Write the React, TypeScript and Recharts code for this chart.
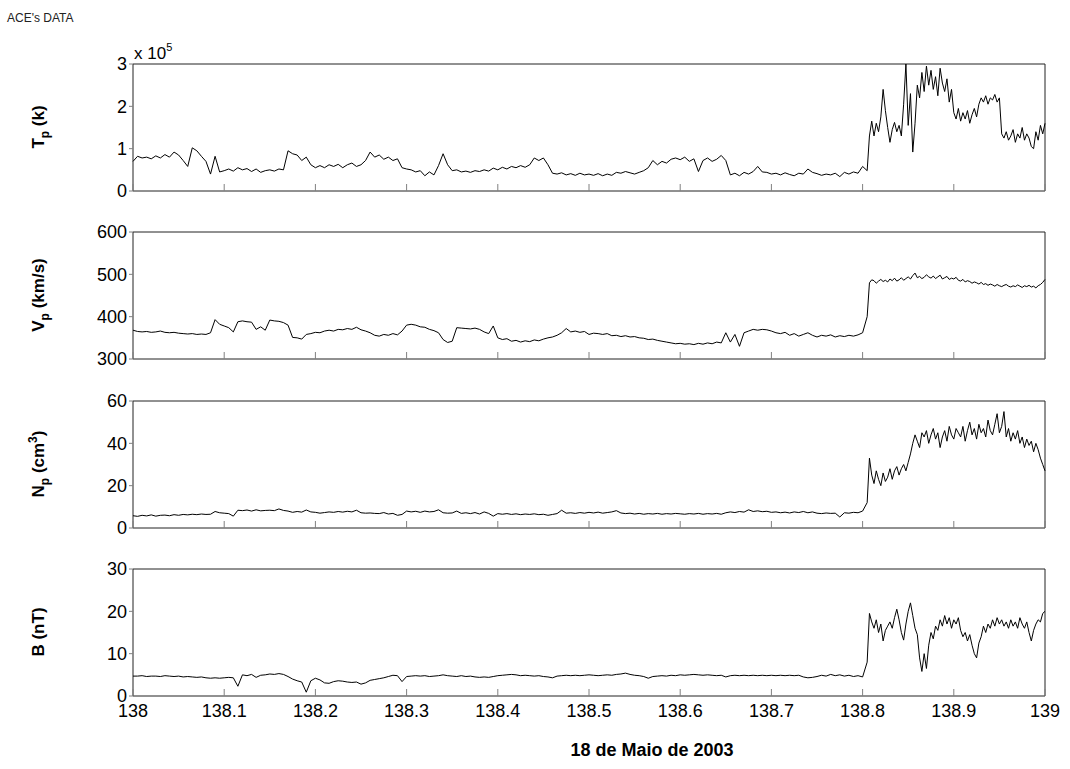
import { LineChart, Line, XAxis, YAxis, ReferenceArea, ReferenceLine } from "recharts";

const FONT = '"Liberation Sans", Arial, Helvetica, sans-serif';
const W = 1070;
const H = 769;
const PLOT_LEFT = 133;
const PLOT_RIGHT = 1045;
const Y_AXIS_W = 60;
const PLOT_H = 127;
const TOP_PAD = 10;
const BOTTOM_PAD = 40;

// time axis (day of year 2003)
const X_TICKS = [138, 138.1, 138.2, 138.3, 138.4, 138.5, 138.6, 138.7, 138.8, 138.9, 139];
const SHOCK_T = 138.805;
// quiet part sampled every 0.005 day from 138.000, disturbed part every 0.0025 day from 138.8075
const PRE_START = 138;
const PRE_STEP = 0.005;
const POST_START = 138.8075;
const POST_STEP = 0.0025;

// proton temperature, in units of 1e5 K
const TP_PRE = [
  0.70, 0.82, 0.78, 0.80, 0.76, 0.83, 0.78, 0.86, 0.80, 0.92,
  0.85, 0.72, 0.58, 1.02, 0.95, 0.82, 0.70, 0.40, 0.82, 0.45,
  0.48, 0.52, 0.47, 0.55, 0.50, 0.53, 0.46, 0.52, 0.44, 0.48,
  0.50, 0.47, 0.52, 0.50, 0.95, 0.88, 0.85, 0.72, 0.80, 0.62,
  0.55, 0.60, 0.55, 0.62, 0.58, 0.63, 0.55, 0.62, 0.66, 0.58,
  0.62, 0.72, 0.92, 0.80, 0.85, 0.75, 0.80, 0.72, 0.76, 0.55,
  0.52, 0.50, 0.45, 0.48, 0.36, 0.45, 0.38, 0.60, 0.88, 0.62,
  0.48, 0.50, 0.45, 0.47, 0.44, 0.48, 0.46, 0.50, 0.47, 0.54,
  0.50, 0.56, 0.52, 0.58, 0.55, 0.60, 0.56, 0.62, 0.78, 0.72,
  0.78, 0.62, 0.42, 0.40, 0.43, 0.38, 0.41, 0.37, 0.42, 0.38,
  0.40, 0.37, 0.41, 0.36, 0.40, 0.37, 0.44, 0.42, 0.46, 0.43,
  0.40, 0.44, 0.48, 0.55, 0.72, 0.62, 0.70, 0.66, 0.75, 0.78,
  0.74, 0.80, 0.70, 0.76, 0.46, 0.72, 0.78, 0.70, 0.75, 0.84,
  0.72, 0.38, 0.42, 0.36, 0.44, 0.40, 0.46, 0.58, 0.45, 0.44,
  0.40, 0.42, 0.38, 0.43, 0.39, 0.36, 0.42, 0.40, 0.52, 0.44,
  0.41, 0.37, 0.40, 0.38, 0.42, 0.34, 0.44, 0.40, 0.45, 0.42,
  0.58, 0.48,
];
const TP_POST = [
  1.30, 1.65, 1.30, 1.60, 1.40, 1.75, 2.40, 1.90, 1.50, 1.15,
  1.45, 1.62, 1.40, 1.55, 1.30, 2.05, 3.00, 1.55, 2.30, 0.92,
  1.60, 2.50, 2.20, 2.80, 2.35, 2.95, 2.50, 2.85, 2.40, 2.70,
  2.25, 2.90, 2.55, 2.35, 2.65, 2.10, 2.40, 1.85, 1.70, 1.95,
  1.65, 1.85, 1.70, 1.90, 1.60, 1.80, 1.95, 1.75, 2.05, 2.20,
  2.10, 2.25, 2.05, 2.20, 2.15, 2.28, 2.10, 2.20, 1.35, 1.25,
  1.40, 1.20, 1.30, 1.45, 1.15, 1.35, 1.25, 1.50, 1.20, 1.35,
  1.25, 1.05, 1.00, 1.40, 1.20, 1.55, 1.35, 1.60,
];

// proton speed, km/s
const VP_PRE = [
  368, 365, 364, 365, 363, 364, 366, 363, 362, 363,
  361, 360, 359, 360, 358, 359, 358, 362, 393, 382,
  378, 374, 364, 388, 390, 388, 387, 370, 376, 368,
  392, 390, 389, 386, 380, 351, 350, 347, 358, 360,
  363, 362, 366, 368, 366, 370, 369, 372, 370, 375,
  369, 366, 362, 356, 354, 358, 356, 360, 357, 366,
  380, 382, 380, 376, 375, 370, 367, 362, 346, 339,
  342, 374, 373, 372, 371, 373, 370, 364, 360, 378,
  350, 346, 348, 342, 344, 340, 343, 341, 345, 343,
  347, 350, 352, 356, 362, 372, 364, 366, 363, 365,
  358, 361, 360, 358, 360, 355, 356, 353, 355, 352,
  353, 350, 349, 346, 347, 344, 342, 340, 338, 336,
  337, 335, 336, 334, 337, 335, 338, 336, 340, 338,
  362, 340, 358, 330, 362, 366, 370, 368, 370, 369,
  366, 362, 360, 363, 356, 360, 354, 358, 362, 356,
  352, 356, 354, 357, 352, 355, 353, 356, 354, 357,
  362, 400,
];
const VP_POST = [
  480, 487, 485, 479, 484, 488, 483, 486, 482, 489,
  485, 491, 484, 487, 492, 486, 490, 494, 489, 497,
  503, 492, 495, 490, 493, 499, 494, 491, 496, 490,
  494, 498, 489, 492, 495, 488, 491, 489, 493, 486,
  484, 488, 482, 485, 483, 479, 482, 480, 477, 481,
  476, 478, 474, 477, 475, 472, 476, 473, 471, 474,
  476, 472, 470, 473, 471, 475, 472, 469, 473, 471,
  474, 470, 472, 468, 473, 476, 481, 488,
];

// proton density, cm^-3
const NP_PRE = [
  5.8, 5.5, 6.0, 5.7, 6.2, 5.6, 6.0, 6.1, 5.8, 6.3,
  6.0, 6.4, 6.2, 6.5, 6.3, 6.6, 6.4, 6.5, 7.8, 7.2,
  7.0, 6.8, 5.6, 8.4, 8.2, 8.5, 8.0, 8.6, 8.1, 8.3,
  8.4, 8.2, 9.0, 8.3, 8.0, 7.4, 7.8, 7.5, 8.5, 7.6,
  7.4, 7.0, 7.3, 7.6, 7.4, 7.8, 7.5, 7.9, 7.6, 8.4,
  7.2, 7.0, 7.1, 6.9, 6.8, 7.3, 6.6, 6.9, 6.0, 6.4,
  8.0, 7.6, 7.9, 7.4, 8.0, 7.6, 7.8, 8.6, 7.2, 7.0,
  7.1, 8.0, 6.9, 7.2, 6.8, 7.3, 6.6, 7.6, 6.9, 5.6,
  6.8, 6.5, 6.8, 6.4, 6.7, 6.3, 6.6, 6.4, 6.7, 6.3,
  6.5, 6.0, 6.4, 6.8, 8.4, 7.0, 7.2, 6.9, 7.3, 7.0,
  7.4, 7.1, 7.5, 7.0, 7.3, 7.6, 8.2, 7.1, 6.8, 7.0,
  6.6, 6.9, 6.5, 6.8, 6.6, 6.9, 6.5, 6.8, 6.6, 6.9,
  6.7, 6.5, 6.8, 6.6, 6.9, 6.5, 6.8, 6.6, 6.9, 6.5,
  7.2, 7.6, 7.3, 7.8, 7.5, 8.6, 7.8, 8.1, 7.7, 7.9,
  7.4, 7.6, 7.2, 7.5, 7.1, 7.6, 7.3, 7.8, 7.2, 7.6,
  7.0, 6.8, 7.1, 6.9, 7.0, 5.2, 7.2, 7.0, 7.4, 7.2,
  8.0, 12.0,
];
const NP_POST = [
  33, 25, 21, 27, 23, 20, 26, 22, 24, 28,
  23, 27, 29, 25, 28, 30, 27, 31, 35, 40,
  44, 41, 38, 45, 43, 46, 40, 44, 47, 42,
  45, 38, 43, 46, 41, 48, 44, 42, 47, 45,
  43, 48, 41, 46, 50, 44, 47, 42, 49, 45,
  47, 43, 51, 46, 44, 49, 54, 45, 48, 55,
  43, 47, 41, 45, 42, 46, 40, 43, 38, 42,
  39, 41, 36, 40, 37, 33, 30, 27,
];

// magnetic field magnitude, nT
const B_PRE = [
  4.7, 4.7, 4.8, 4.6, 4.7, 4.7, 4.6, 4.8, 4.7, 4.6,
  4.7, 4.5, 4.6, 4.5, 4.4, 4.5, 4.3, 4.2, 4.3, 4.2,
  4.3, 4.4, 4.3, 2.3, 5.0, 4.8, 5.1, 4.4, 4.9, 5.0,
  5.2, 5.1, 5.3, 5.1, 4.6, 4.0, 3.6, 3.3, 0.9, 3.6,
  4.2, 3.8, 3.1, 3.0, 3.4, 3.6, 3.5, 3.3, 3.2, 3.3,
  2.8, 3.1, 3.7, 3.9, 4.1, 4.3, 4.6, 4.9, 4.8, 3.4,
  4.6, 4.7, 4.8, 4.7, 4.8, 4.6, 4.7, 4.8, 5.0, 4.8,
  4.7, 4.6, 4.8, 4.6, 4.7, 4.5, 4.4, 4.5, 4.4, 4.6,
  4.8, 4.9, 5.0, 5.1, 5.0, 4.8, 4.9, 4.8, 4.7, 4.8,
  4.6, 4.5, 4.3, 4.7, 4.8, 4.9, 4.8, 4.9, 4.8, 4.9,
  5.0, 4.9, 4.8, 4.9, 5.0, 4.9, 5.1, 5.2, 5.4, 5.1,
  4.9, 4.8, 4.6, 4.2, 4.6, 4.7, 4.8, 4.7, 4.9, 4.8,
  5.0, 4.9, 5.0, 5.1, 5.0, 4.9, 5.0, 4.9, 4.8, 4.9,
  4.5, 4.8, 4.9, 4.8, 4.9, 4.8, 4.9, 4.8, 4.9, 4.8,
  4.9, 4.8, 4.9, 4.8, 4.9, 4.8, 4.9, 4.5, 4.3, 4.4,
  4.6, 4.9, 4.7, 5.1, 4.8, 5.0, 4.7, 4.9, 4.6, 4.8,
  4.5, 8.0,
];
const B_POST = [
  19.5, 17.5, 16.0, 18.0, 15.0, 17.0, 13.0, 15.5, 16.5, 17.5,
  16.0, 18.5, 20.5, 18.0, 15.0, 13.2, 17.0, 20.0, 22.0, 19.0,
  16.0, 14.5, 9.0, 5.8, 10.0, 6.5, 12.0, 15.0, 13.5, 16.5,
  15.5, 18.0, 16.5, 19.0, 17.0, 18.5, 16.0, 18.0, 17.0, 18.5,
  15.5, 14.0, 15.0, 13.0, 14.5, 12.0, 10.0, 9.0, 12.5, 14.0,
  16.5, 15.0, 17.0, 16.0, 18.0, 16.5, 18.5, 17.0, 18.0, 16.5,
  17.5, 16.0, 18.0, 16.5, 17.5, 16.0, 18.5, 17.0, 16.0, 17.5,
  15.0, 13.0, 15.5, 17.0, 18.0, 17.5, 19.5, 20.0,
];

function buildRows(pre: number[], post: number[]) {
  const a = pre.map((v, i) => ({ t: +(PRE_START + i * PRE_STEP).toFixed(4), v }));
  const b = post.map((v, j) => ({ t: +(POST_START + j * POST_STEP).toFixed(4), v }));
  return [...a, ...b];
}

const PANELS = [
  { key: "tp", top: 64, rows: buildRows(TP_PRE, TP_POST), domain: [0, 3], ticks: [0, 1, 2, 3] },
  { key: "vp", top: 232, rows: buildRows(VP_PRE, VP_POST), domain: [300, 600], ticks: [300, 400, 500, 600] },
  { key: "np", top: 401, rows: buildRows(NP_PRE, NP_POST), domain: [0, 60], ticks: [0, 20, 40, 60] },
  { key: "b", top: 569, rows: buildRows(B_PRE, B_POST), domain: [0, 30], ticks: [0, 10, 20, 30] },
];

function BottomTick(props: any) {
  const { x, y, payload, showLabel } = props;
  return (
    <g>
      <line x1={x} x2={x} y1={y} y2={y - 7} stroke="#808080" />
      {showLabel && (
        <text x={x} y={y + 21} textAnchor="middle" fontSize={18} fontFamily={FONT} fill="#000">
          {payload.value}
        </text>
      )}
    </g>
  );
}

function TopTick(props: any) {
  const { x, y } = props;
  return <line x1={x} x2={x} y1={y} y2={y + 7} stroke="#808080" />;
}

function Panel({ top, rows, domain, ticks, showXLabels }: any) {
  return (
    <div style={{ position: "absolute", left: 0, top: top - TOP_PAD }}>
      <LineChart
        width={W}
        height={TOP_PAD + PLOT_H + BOTTOM_PAD}
        data={rows}
        margin={{ top: TOP_PAD, right: W - PLOT_RIGHT, bottom: 0, left: PLOT_LEFT - Y_AXIS_W }}
      >
        <XAxis
          xAxisId="b"
          dataKey="t"
          type="number"
          domain={[138, 139]}
          ticks={X_TICKS}
          interval={0}
          height={BOTTOM_PAD}
          axisLine={false}
          tickLine={false}
          tickSize={0}
          tickMargin={0}
          tick={(p: any) => <BottomTick {...p} showLabel={showXLabels} />}
        />
        <XAxis
          xAxisId="t"
          orientation="top"
          dataKey="t"
          type="number"
          domain={[138, 139]}
          ticks={X_TICKS}
          interval={0}
          height={0}
          axisLine={false}
          tickLine={false}
          tickSize={0}
          tickMargin={0}
          tick={(p: any) => <TopTick {...p} />}
        />
        <YAxis
          domain={domain}
          ticks={ticks}
          interval={0}
          width={Y_AXIS_W}
          axisLine={false}
          tickLine={{ stroke: "#808080" }}
          tickSize={4}
          tickMargin={2}
          tick={{ fontSize: 18, fill: "#000", fontFamily: FONT }}
        />
        <ReferenceArea
          xAxisId="b"
          x1={138}
          x2={139}
          y1={domain[0]}
          y2={domain[1]}
          fill="none"
          stroke="#222"
        />
        <Line
          xAxisId="b"
          dataKey="v"
          type="linear"
          stroke="#000"
          strokeWidth={1}
          dot={false}
          isAnimationActive={false}
        />
      </LineChart>
    </div>
  );
}

const SHOCK_ROWS = [{ t: 138 }, { t: 139 }];

function YLabel({ x, y, main, sub, rest, sup, tail }: any) {
  return (
    <text
      transform={`translate(${x}, ${y}) rotate(-90)`}
      textAnchor="middle"
      fontSize={17}
      fontWeight="bold"
      fontFamily={FONT}
      fill="#000"
    >
      {main}
      {sub && (
        <tspan dy={5} fontSize={12}>
          {sub}
        </tspan>
      )}
      <tspan dy={sub ? -5 : 0}>{rest}</tspan>
      {sup && (
        <tspan dy={-7} fontSize={12}>
          {sup}
        </tspan>
      )}
      {tail && <tspan dy={sup ? 7 : 0}>{tail}</tspan>}
    </text>
  );
}

export default function App() {
  return (
    <div style={{ position: "fixed", left: 0, top: 0, width: W, height: H, background: "#fff" }}>
      {PANELS.map((p, i) => (
        <Panel key={p.key} {...p} showXLabels={i === PANELS.length - 1} />
      ))}
      <div style={{ position: "absolute", left: 0, top: 0, pointerEvents: "none" }}>
        <LineChart
          width={W}
          height={H}
          data={SHOCK_ROWS}
          margin={{ top: 64, right: W - PLOT_RIGHT, bottom: H - 696, left: PLOT_LEFT }}
        >
          <XAxis dataKey="t" type="number" domain={[138, 139]} hide />
          <YAxis domain={[0, 1]} hide />
          <ReferenceLine x={SHOCK_T} stroke="#ff0000" strokeWidth={1} strokeDasharray="3 2" />
        </LineChart>
      </div>
      <svg
        width={W}
        height={H}
        style={{ position: "absolute", left: 0, top: 0, pointerEvents: "none" }}
      >
        <text x={7} y={22} fontSize={12} fontFamily={FONT} fill="#222">
          ACE's DATA
        </text>
        <text x={134} y={59} fontSize={17} fontFamily={FONT} fill="#000">
          x 10
          <tspan dy={-8} fontSize={11}>
            5
          </tspan>
        </text>
        <YLabel x={44} y={127} main="T" sub="p" rest=" (k)" />
        <YLabel x={44} y={295} main="V" sub="p" rest=" (km/s)" />
        <YLabel x={44} y={464} main="N" sub="p" rest=" (cm" sup="3" tail=")" />
        <YLabel x={44} y={632} main="B (nT)" rest="" />
        <text
          x={652}
          y={756}
          fontSize={18}
          fontWeight="bold"
          fontFamily={FONT}
          textAnchor="middle"
          fill="#000"
        >
          18 de Maio de 2003
        </text>
      </svg>
    </div>
  );
}
